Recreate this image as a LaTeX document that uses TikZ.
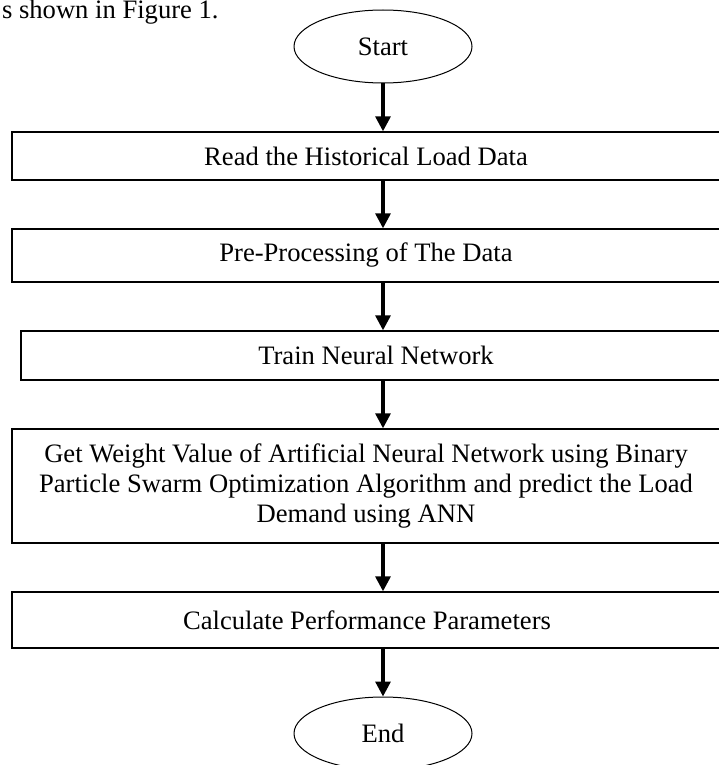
\documentclass[tikz,border=0pt]{standalone}
\usepackage{fontspec}
\setmainfont{Liberation Serif}
\usetikzlibrary{shapes, arrows.meta, calc, positioning}

\tikzset{
    terminal/.style={draw, ellipse, line width=0.5pt, minimum width=89pt, minimum height=36.5pt, inner sep=0pt},
    process/.style={draw, rectangle, line width=0.7pt, inner sep=0pt, align=center},
    flow/.style={line width=1.6pt, -{Triangle[width=7.5pt, length=7.5pt]}}
}

\begin{document}
\begin{tikzpicture}[x=0.5pt, y=-0.5pt, font=\fontsize{13.3}{15}\selectfont]
        \useasboundingbox (0,0) rectangle (718,765);

        % line of running text above the chart
        \node[anchor=base east, inner sep=0pt] (T) at (219,19) {s shown in Figure 1.};

        \node[terminal] (S) at (383,46.5) {Start};
        \node[process, minimum width=354pt, minimum height=24pt] (B1) at (366,156) {Read the Historical Load Data};
        \node[process, minimum width=354pt, minimum height=26.5pt] (B2) at (366,255.5) {Pre-Processing of The Data};
        \node[process, minimum width=355pt, minimum height=24.5pt] (B3) at (376,355.5) {Train Neural Network};
        \node[process, minimum width=354pt, minimum height=57pt] (B4) at (366,486) {Get Weight Value of Artificial Neural Network using Binary\\Particle Swarm Optimization Algorithm and predict the Load\\Demand using ANN};
        \node[process, minimum width=355pt, minimum height=28pt] (B5) at (367,620) {Calculate Performance Parameters};
        \node[terminal] (E) at (383,733.5) {End};

        \draw [flow] (S) -- (B1.north -| S);
        \draw [flow] (B1.south -| S) -- (B2.north -| S);
        \draw [flow] (B2.south -| S) -- (B3.north -| S);
        \draw [flow] (B3.south -| S) -- (B4.north -| S);
        \draw [flow] (B4.south -| S) -- (B5.north -| S);
        \draw [flow] (B5.south -| S) -- (E);
    \end{tikzpicture}
\end{document}
